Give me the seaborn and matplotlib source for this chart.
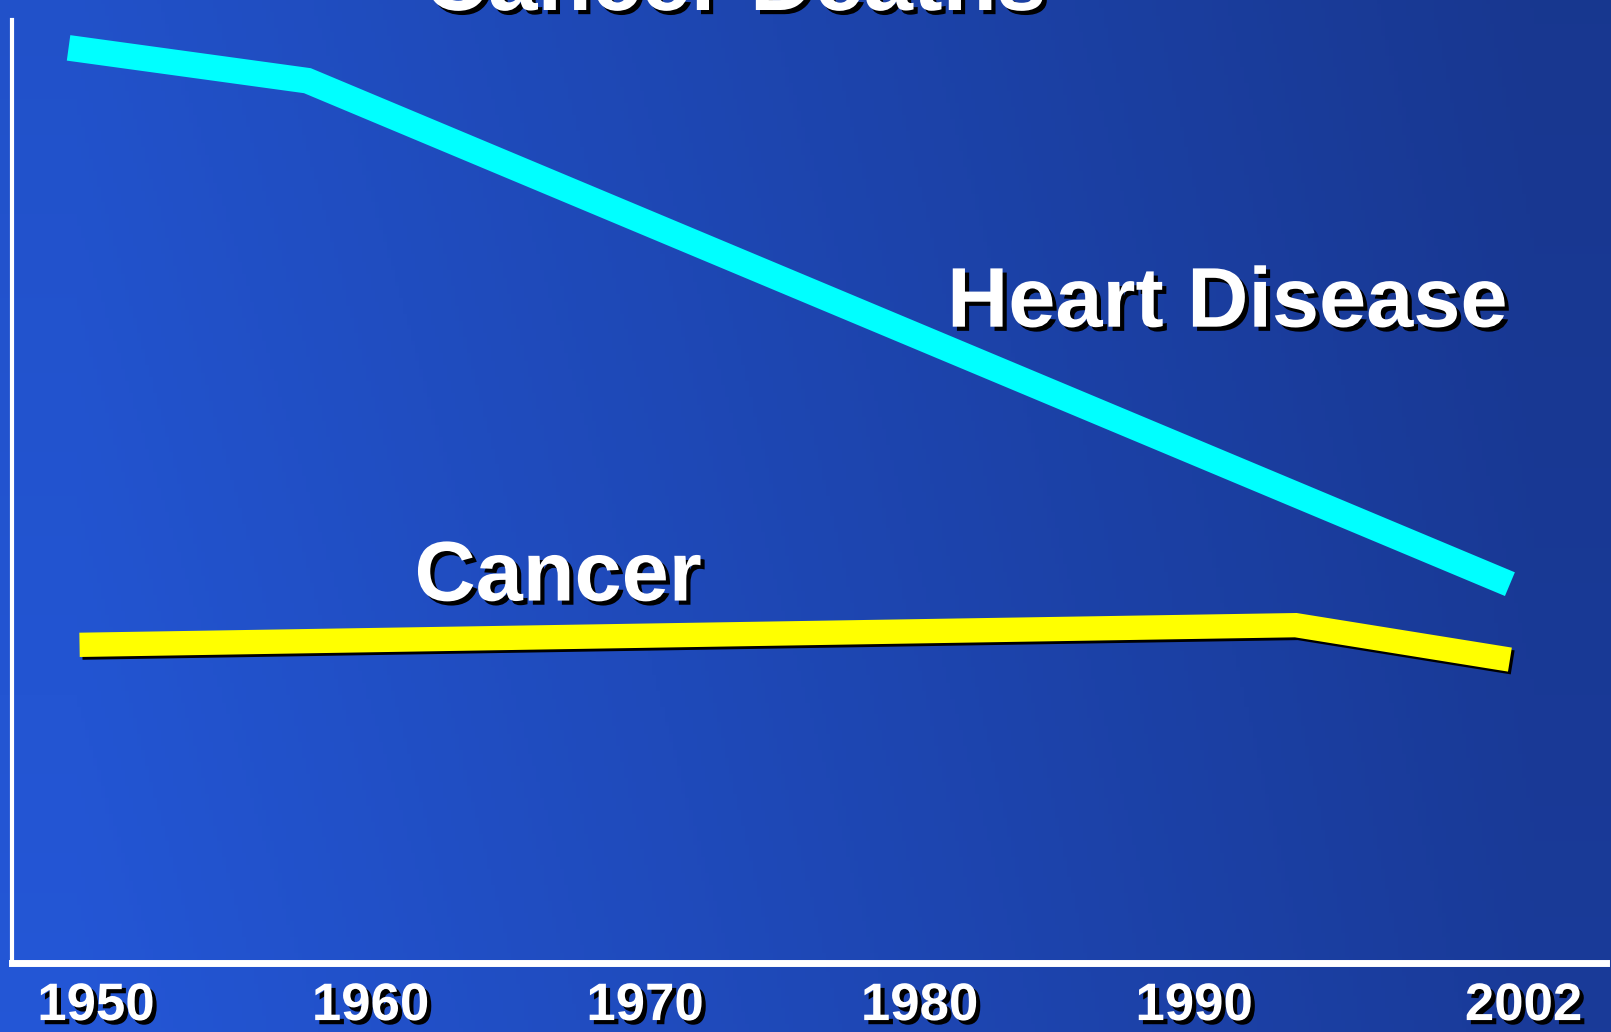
import numpy as np
import pandas as pd
import matplotlib
matplotlib.use('Agg')
import matplotlib.pyplot as plt
import matplotlib.patheffects as pe
import seaborn as sns

# values (age adjusted death rate, per 100,000)
heart_years = [1949.0, 1957.7, 2001.5]
heart_rate = [558, 538, 231]
cancer_years = [1949.4, 1993.7, 2001.5]
cancer_rate = [194, 206, 185]
tick_years = [1950, 1960, 1970, 1980, 1990, 2002]
tick_labels = ['1950', '1960', '1970', '1980', '1990', '2002']

df_heart = pd.DataFrame({'year': heart_years, 'rate': heart_rate})
df_cancer = pd.DataFrame({'year': cancer_years, 'rate': cancer_rate})

sns.set_theme(style='white')
plt.rcParams['font.family'] = ['Liberation Sans', 'DejaVu Sans']
plt.rcParams['font.weight'] = 'bold'

fig = plt.figure(figsize=(16.11, 10.32), dpi=100)

# blue slide background
bg = fig.add_axes([0, 0, 1, 1], zorder=0)
xx, yy = np.meshgrid(np.linspace(0, 1, 400), np.linspace(0, 1, 260))
left_col = np.array([0.14, 0.34, 0.84])
right_col = np.array([0.10, 0.23, 0.60])
t = np.clip(xx * 1.1 - 0.05, 0, 1)[..., None]
img = left_col * (1 - t) + right_col * t
img = img * (1 - 0.06 * (1 - yy)[..., None])
bg.imshow(img, aspect='auto', extent=[0, 1, 0, 1])
bg.axis('off')

ax = fig.add_axes([12 / 1611, 69 / 1032, 1594 / 1611, 943 / 1032], zorder=1)
ax.set_facecolor('none')

shadow = [pe.SimpleLineShadow(offset=(2, -2), shadow_color='black', alpha=1), pe.Normal()]

sns.lineplot(data=df_heart, x='year', y='rate', ax=ax, color='#00ffff', linewidth=18.5,
             sort=False, estimator=None)
sns.lineplot(data=df_cancer, x='year', y='rate', ax=ax, color='#ffff00', linewidth=17.5,
             sort=False, estimator=None)
for i, line in enumerate(ax.get_lines()):
    line.set_solid_capstyle('butt')
    line.set_solid_joinstyle('miter')
    if i == 1:
        line.set_path_effects(shadow)

ax.set_xlim(1946.94, 2005.0)
ax.set_ylim(0, 575)
ax.set_xticks(tick_years)
ax.set_xticklabels(tick_labels)
ax.set_yticks([])
ax.set_xlabel('')
ax.set_ylabel('')
ax.tick_params(axis='x', length=0, pad=13, labelsize=38, labelcolor='white')

text_shadow = [pe.withSimplePatchShadow(offset=(3, -3), shadow_rgbFace='black', alpha=1)]
for lab in ax.get_xticklabels():
    lab.set_fontweight('bold')
    lab.set_path_effects(text_shadow)

for side in ['top', 'right']:
    ax.spines[side].set_visible(False)
ax.spines['left'].set_color('white')
ax.spines['left'].set_linewidth(3)
ax.spines['bottom'].set_color('white')
ax.spines['bottom'].set_linewidth(5)
spine_shadow = [pe.SimplePatchShadow(offset=(3, -3), shadow_rgbFace='black', alpha=1), pe.Normal()]
ax.spines['left'].set_path_effects(spine_shadow)
ax.spines['bottom'].set_path_effects(spine_shadow)

ax.text(1981.0, 388, 'Heart Disease', color='white', fontsize=61, fontweight='bold',
        ha='left', va='baseline', path_effects=text_shadow)
ax.text(1961.6, 221, 'Cancer', color='white', fontsize=61, fontweight='bold',
        ha='left', va='baseline', path_effects=text_shadow)

fig.text(735 / 1611, 1 - 10 / 1032, 'Cancer Deaths', color='white', fontsize=64,
         fontweight='bold', ha='center', va='baseline', path_effects=text_shadow)

fig.savefig('out.png', dpi=100)
